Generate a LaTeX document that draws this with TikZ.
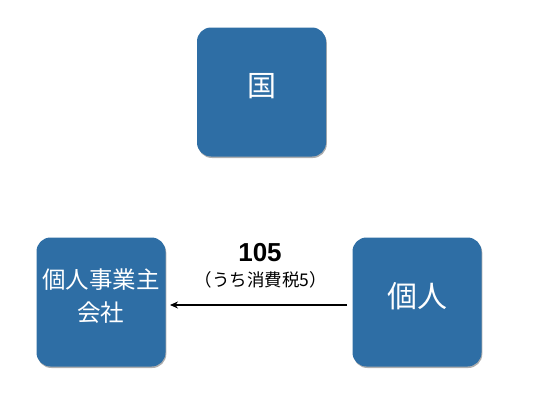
\documentclass[tikz,border=0pt]{standalone}
\usepackage{fontspec}
\setmainfont{Liberation Sans}
\newfontfamily\jp{Noto Sans CJK JP}
\usetikzlibrary{shadows,arrows.meta}
\definecolor{boxblue}{RGB}{46,110,165}
\tikzset{
  bluebox/.style={fill=boxblue, rounded corners=14pt, minimum width=129pt, minimum height=129pt,
    inner sep=0pt,
    drop shadow={shadow xshift=0.8pt, shadow yshift=-1.5pt, opacity=0.45, fill=black!70}},
  boxtext/.style={text=white, align=center, inner sep=0pt},
  flowarrow/.style={draw=black, line width=1.2pt, -{Stealth[length=8pt,width=7pt]}}
}
\begin{document}
\begin{tikzpicture}[x=1pt,y=-1pt]
\useasboundingbox (0,0) rectangle (550,415);
\node[bluebox] (kuni) at (261.5,92) {};
\node[bluebox] (jigyo) at (101,302) {};
\node[bluebox] (kojin) at (417,302) {};
\node[boxtext, font=\jp\fontsize{29}{32}\selectfont] (kunitext) at ([yshift=5.5pt]kuni.center) {国};
\node[boxtext, font=\jp\fontsize{23.5}{33}\selectfont] (jigyotext) at ([yshift=5.5pt]jigyo.center) {個人事業主\\会社};
\node[boxtext, font=\jp\fontsize{30}{32}\selectfont] (kojintext) at ([yshift=6pt]kojin.center) {個人};
\coordinate (arrstart) at (347,305);
\coordinate (arrend) at (170,305);
\draw[flowarrow] (arrstart) -- (arrend);
\node[font=\bfseries\fontsize{26}{28}\selectfont] (amt) at (260,253) {105};
\node[font=\jp\fontsize{17.5}{20}\selectfont] (tax) at (261,280) {（うち消費税5）};
\end{tikzpicture}
\end{document}
